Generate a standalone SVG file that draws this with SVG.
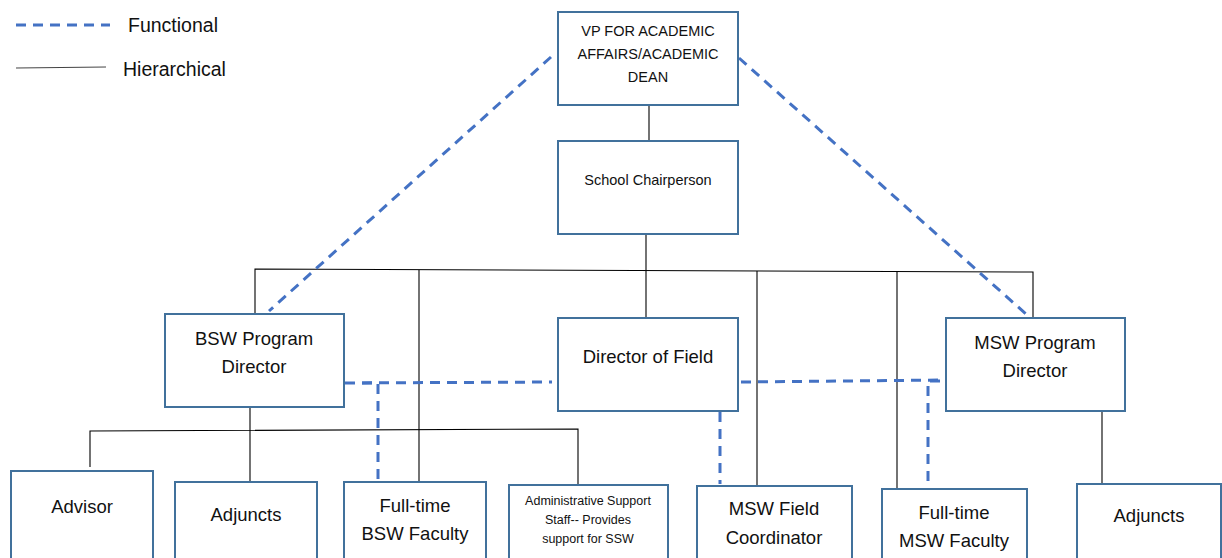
<svg xmlns="http://www.w3.org/2000/svg" width="1222" height="558" viewBox="0 0 1222 558">
<style>
.box{fill:#fff;stroke:#41719C;stroke-width:2}
.h{stroke:#000;stroke-width:1.1;fill:none}
.f{stroke:#4472C4;stroke-width:3;stroke-dasharray:10 7;fill:none}
text{font-family:"Liberation Sans",Arial,sans-serif;fill:#111;text-anchor:middle}
.l{font-size:18.5px}
.s{font-size:14.5px}
.xs{font-size:12.5px}
.lg{font-size:19.5px;text-anchor:start}
</style>
<g id="legend">
<line x1="16" y1="25" x2="110" y2="25" class="f"/>
<text x="128" y="32" class="lg">Functional</text>
<line x1="16" y1="68" x2="106" y2="67" stroke="#444" stroke-width="1.2"/>
<text x="123" y="76" class="lg">Hierarchical</text>
</g>
<g id="connectors">
<line x1="649" y1="105" x2="649" y2="141" class="h"/>
<line x1="646" y1="234" x2="646" y2="318" class="h"/>
<polyline points="255,314 255,269 1033,272 1033,318" class="h"/>
<line x1="419" y1="270" x2="419" y2="483" class="h"/>
<line x1="757" y1="271" x2="757" y2="486" class="h"/>
<line x1="897" y1="272" x2="897" y2="489" class="h"/>
<line x1="250" y1="407" x2="250" y2="482" class="h"/>
<polyline points="90,467 90,431 578,429 578,485" class="h"/>
<line x1="1102" y1="411" x2="1102" y2="484" class="h"/>
<line x1="551" y1="57" x2="269" y2="311" class="f"/>
<line x1="739" y1="58" x2="1026" y2="314" class="f"/>
<line x1="345" y1="383" x2="552" y2="382" class="f"/>
<polyline points="362,383 378,383 378,480" class="f"/>
<line x1="741" y1="382" x2="946" y2="380" class="f"/>
<polyline points="940,381 928,381 928,488" class="f"/>
<line x1="720" y1="412" x2="720" y2="484" class="f"/>
</g>
<g id="vp">
<rect x="558" y="12" width="180" height="93" class="box"/>
<text x="648" y="36" class="s">VP FOR ACADEMIC</text>
<text x="648" y="59" class="s">AFFAIRS/ACADEMIC</text>
<text x="648" y="82" class="s">DEAN</text>
</g>
<g id="chair">
<rect x="558" y="141" width="180" height="93" class="box"/>
<text x="648" y="185" class="s">School Chairperson</text>
</g>
<g id="bsw-director">
<rect x="165" y="314" width="179" height="93" class="box"/>
<text x="254" y="345" class="l">BSW Program</text>
<text x="254" y="373" class="l">Director</text>
</g>
<g id="field-director">
<rect x="558" y="318" width="180" height="93" class="box"/>
<text x="648" y="363" class="l">Director of Field</text>
</g>
<g id="msw-director">
<rect x="946" y="318" width="179" height="93" class="box"/>
<text x="1035" y="349" class="l">MSW Program</text>
<text x="1035" y="377" class="l">Director</text>
</g>
<g id="advisor">
<rect x="11" y="471" width="142" height="100" class="box"/>
<text x="82" y="513" class="l">Advisor</text>
</g>
<g id="bsw-adjuncts">
<rect x="175" y="482" width="142" height="90" class="box"/>
<text x="246" y="521" class="l">Adjuncts</text>
</g>
<g id="bsw-faculty">
<rect x="344" y="482" width="142" height="90" class="box"/>
<text x="415" y="512" class="l">Full-time</text>
<text x="415" y="540" class="l">BSW Faculty</text>
</g>
<g id="admin">
<rect x="509" y="485" width="159" height="90" class="box"/>
<text x="588" y="505" class="xs">Administrative Support</text>
<text x="588" y="524" class="xs">Staff-- Provides</text>
<text x="588" y="543" class="xs">support for SSW</text>
</g>
<g id="msw-field">
<rect x="697" y="486" width="155" height="90" class="box"/>
<text x="774" y="515" class="l">MSW Field</text>
<text x="774" y="544" class="l">Coordinator</text>
</g>
<g id="msw-faculty">
<rect x="882" y="489" width="145" height="90" class="box"/>
<text x="954" y="519" class="l">Full-time</text>
<text x="954" y="547" class="l">MSW Faculty</text>
</g>
<g id="msw-adjuncts">
<rect x="1077" y="484" width="144" height="90" class="box"/>
<text x="1149" y="522" class="l">Adjuncts</text>
</g>
</svg>
